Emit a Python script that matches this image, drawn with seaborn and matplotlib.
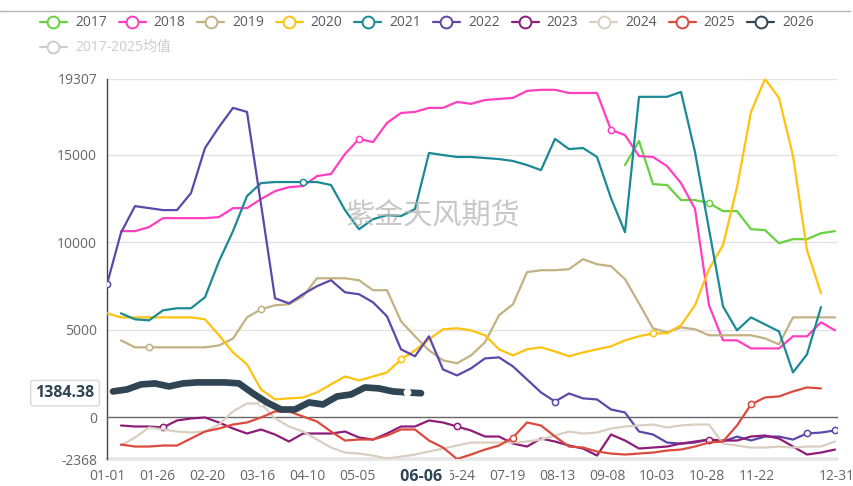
import numpy as np
import pandas as pd
import matplotlib
matplotlib.use("Agg")
import matplotlib.pyplot as plt
import matplotlib.transforms as mtransforms
from matplotlib.lines import Line2D
import seaborn as sns

# ---------------------------------------------------------------- data
# weekly observations placed on a day-of-year axis (0 = 01-01, 365 = 12-31)
WEEK = 7

tick_days = [0, 25, 50, 75, 100, 125, 150, 175, 200, 225, 250, 275, 300, 325, 365]
tick_labels = ["01-01", "01-26", "02-20", "03-16", "04-10", "05-05", "",
               "06-24", "07-19", "08-13", "09-08", "10-03", "10-28", "11-22", "12-31"]

y_ticks = [-2368, 0, 5000, 10000, 15000, 19307]

years = ["2017", "2018", "2019", "2020", "2021", "2022", "2023", "2024", "2025", "2026"]

y2017 = [14400, 15770, 13310, 13260, 12400, 12400, 12230, 11770, 11770, 10740,
         10690, 9940, 10170, 10170, 10510, 10630]
y2018 = [10630, 10630, 10860, 11370, 11370, 11370, 11370, 11430, 11940, 11940,
         12460, 12910, 13140, 13200, 13770, 13890, 15030, 15890, 15710, 16800,
         17370, 17430, 17660, 17660, 18000, 17890, 18110, 18170, 18230, 18630,
         18690, 18690, 18510, 18510, 18510, 16400, 16110, 14910, 14860, 14340,
         13370, 11900, 6400, 4400, 4400, 3940, 3940, 3940, 4630, 4630,
         5430, 4970]
y2019 = [4400, 4000, 4000, 4000, 4000, 4000, 4000, 4110, 4500, 5710,
         6170, 6400, 6460, 6910, 7940, 7940, 7940, 7830, 7260, 7260,
         5490, 4630, 3830, 3260, 3090, 3540, 4290, 5830, 6460, 8290,
         8400, 8400, 8460, 9030, 8740, 8630, 7890, 6510, 5090, 4860,
         5140, 5030, 4690, 4690, 4690, 4690, 4510, 4170, 5710, 5710,
         5710, 5710]
y2020 = [5940, 5710, 5710, 5710, 5710, 5710, 5710, 5600, 4690, 3710,
         3030, 1600, 1030, 1090, 1140, 1430, 1890, 2340, 2110, 2340,
         2570, 3310, 3830, 4460, 5030, 5090, 4970, 4690, 3890, 3540,
         3890, 4000, 3770, 3490, 3710, 3890, 4060, 4400, 4630, 4800,
         4800, 5260, 6400, 8460, 9830, 13140, 17430, 19307, 18230, 14910,
         9540, 7090]
y2021 = [5940, 5600, 5540, 6110, 6230, 6230, 6860, 8910, 10630, 12630,
         13370, 13430, 13430, 13430, 13430, 13260, 11830, 10740, 11310, 11540,
         11490, 11890, 15090, 14970, 14860, 14860, 14800, 14740, 14630, 14400,
         14110, 15890, 15310, 15370, 14860, 12510, 10570, 18290, 18290, 18290,
         18570, 15140, 10740, 6340, 4970, 5710, 5310, 4910, 2570, 3600,
         6300]
y2022 = [7600, 10540, 12057, 11943, 11830, 11830, 12800, 15370, 16570, 17660,
         17430, 12170, 6800, 6510, 7030, 7490, 7830, 7140, 7030, 6570,
         5770, 3890, 3490, 4630, 2740, 2400, 2800, 3370, 3430, 2910,
         2170, 1430, 910, 1370, 1090, 1030, 457, 286, -800, -970,
         -1430, -1490, -1430, -1260, -1370, -1090, -1310, -1090, -1090, -1260,
         -910, -860, -740]
y2023 = [-457, -514, -514, -571, -171, -57, 0, -286, -629, -914,
         -686, -971, -1371, -914, -914, -914, -800, -1143, -1257, -914,
         -514, -514, -171, -286, -514, -743, -1086, -1086, -1486, -1657,
         -1200, -1371, -1600, -1771, -2171, -971, -1314, -1771, -1714, -1657,
         -1486, -1371, -1257, -1314, -1314, -1086, -1029, -1200, -1657, -2114,
         -2000, -1829]
y2024 = [-1600, -1143, -571, -686, -800, -857, -800, -400, 343, 800,
         800, -50, -514, -800, -1257, -1714, -2000, -2057, -2171, -2343,
         -2229, -2114, -1943, -1771, -1600, -1429, -1429, -1429, -1429, -1371,
         -1257, -1029, -800, -914, -857, -629, -514, -457, -400, -571,
         -457, -400, -400, -1486, -1600, -1714, -1714, -1657, -1714, -1657,
         -1657, -1371]
y2025 = [-1543, -1657, -1657, -1600, -1600, -1200, -800, -629, -400, -286,
         0, 343, 343, 57, -229, -800, -1314, -1257, -1257, -1029,
         -686, -686, -1314, -1714, -2368, -2114, -1829, -1600, -1143, -286,
         -457, -1086, -1657, -1714, -1943, -2057, -2114, -2057, -2000, -1886,
         -1829, -1657, -1429, -1371, -457, 743, 1143, 1200, 1486, 1714,
         1657]
y2026 = [1486, 1600, 1886, 1943, 1771, 1943, 2000, 2000, 2000, 1943,
         1371, 857, 457, 457, 857, 743, 1200, 1314, 1714, 1657,
         1486, 1429, 1384.38]

# first observation day of each year on the calendar axis
first_day = {"2017": 37 * WEEK, "2018": 1 * WEEK, "2019": 1 * WEEK, "2020": 0,
             "2021": 1 * WEEK, "2022": 0, "2023": 1 * WEEK, "2024": 1 * WEEK,
             "2025": 1 * WEEK, "2026": 3}
values = {"2017": y2017, "2018": y2018, "2019": y2019, "2020": y2020,
          "2021": y2021, "2022": y2022, "2023": y2023, "2024": y2024,
          "2025": y2025, "2026": y2026}

latest_label = "06-06"
latest_value = y2026[-1]
avg_label = "2017-2025均值"
watermark = "紫金天风期货"

# ---------------------------------------------------------------- style
colors = {"2017": "#68d13f", "2018": "#ff3fc0", "2019": "#c2b283",
          "2020": "#ffc20e", "2021": "#1a8a96", "2022": "#5b48a8",
          "2023": "#8e1d79", "2024": "#d9cfc1", "2025": "#dc4a3d",
          "2026": "#2f4554"}
# points that carry a hollow symbol (index within each series)
symbol_points = {"2017": [6], "2018": [17, 35], "2019": [2, 10], "2020": [21, 39],
                 "2021": [13], "2022": [0, 32, 50, 52], "2023": [3, 24, 42],
                 "2024": [10], "2025": [28, 45], "2026": [21]}

sns.set_style("white")
plt.rcParams["font.family"] = ["Open Sans", "Noto Sans CJK SC", "DejaVu Sans"]

W, H = 854, 486
fig = plt.figure(figsize=(W / 100, H / 100), dpi=100)
fig.patch.set_facecolor("white")
ax = fig.add_axes([107 / W, 1 - 459 / H, 730 / W, 380 / H])

frames = []
for yr in years:
    v = values[yr]
    d = first_day[yr] + WEEK * np.arange(len(v))
    frames.append(pd.DataFrame({"day": d, "value": v, "year": yr}))
data = pd.concat(frames, ignore_index=True)

for i, yr in enumerate(years):
    sub = data[data["year"] == yr]
    lw = 4.8 if yr == "2026" else 1.6
    sns.lineplot(data=sub, x="day", y="value", ax=ax, color=colors[yr],
                 linewidth=lw, estimator=None, sort=False, legend=False,
                 marker="o", markevery=symbol_points[yr], markersize=4.5,
                 markerfacecolor="white",
                 markeredgecolor=colors[yr] if yr != "2026" else "white",
                 markeredgewidth=1.1, solid_joinstyle="round", solid_capstyle="round",
                 zorder=3 + i)

ax.set_xlim(0, 365)
ax.set_ylim(y_ticks[0], y_ticks[-1])
ax.set_xticks(tick_days)
ax.set_xticklabels(tick_labels)
ax.set_yticks(y_ticks)
ax.set_yticklabels([str(t) for t in y_ticks])
ax.set_xlabel("")
ax.set_ylabel("")

# horizontal guides
for g in y_ticks[2:]:
    ax.axhline(g, color="#e2e2e2", lw=1.0, zorder=1)
ax.axhline(y_ticks[0], color="#e6e6e6", lw=2.6, zorder=1, clip_on=False)

for s in ("top", "right"):
    ax.spines[s].set_visible(False)
ax.spines["left"].set_color("#444444")
ax.spines["left"].set_linewidth(1.0)
ax.spines["bottom"].set_position(("data", 0))
ax.spines["bottom"].set_color("#666666")
ax.spines["bottom"].set_linewidth(1.0)

ax.tick_params(axis="x", direction="out", length=4, width=1, color="#666666",
               pad=33, labelsize=10, labelcolor="#666666")
ax.tick_params(axis="y", direction="out", length=4, width=1, color="#444444",
               pad=3, labelsize=10, labelcolor="#666666")

# pointer labels for the latest observation
tx = mtransforms.blended_transform_factory(ax.transData, ax.transAxes)
ax.text(157, -0.047, f" {latest_label} ", transform=tx, ha="center", va="center",
        fontsize=11.5, fontweight="bold", color="#2f4554", zorder=20, clip_on=False,
        bbox=dict(facecolor="white", edgecolor="none", pad=3))
ty = mtransforms.blended_transform_factory(ax.transAxes, ax.transData)
ax.text(-0.017, latest_value, f"{latest_value:.2f}", transform=ty, ha="right",
        va="center", fontsize=11.5, fontweight="bold", color="#2f4554", zorder=20,
        clip_on=False,
        bbox=dict(boxstyle="round,pad=0.3,rounding_size=0.15", facecolor="white",
                  edgecolor="#d8d8d8", lw=1))

# watermark
ax.text(0.447, 0.64, watermark, transform=ax.transAxes, ha="center", va="center",
        fontsize=21, color="#b5b5b5", alpha=0.75, zorder=30,
        family=["Noto Sans CJK SC", "DejaVu Sans"])

# ---------------------------------------------------------------- legend
def fx(px):
    return px / W


def fy(py):
    return 1 - py / H


fig.add_artist(Line2D([fx(0), fx(850)], [fy(11), fy(11)], color="#b4b4b4", lw=1))

for i, yr in enumerate(years):
    x0 = 40 + 78.6 * i
    fig.add_artist(Line2D([fx(x0), fx(x0 + 27)], [fy(22.5), fy(22.5)], color=colors[yr], lw=1.6))
    fig.add_artist(Line2D([fx(x0 + 13.5)], [fy(22.5)], color=colors[yr], marker="o",
                          markersize=8.5, markerfacecolor="white", markeredgewidth=1.4))
    fig.text(fx(x0 + 35), fy(22.5), yr, ha="left", va="center", fontsize=10,
             color="#5a5a5a")

x0 = 40
fig.add_artist(Line2D([fx(x0), fx(x0 + 27)], [fy(47), fy(47)], color="#cccccc", lw=1.6))
fig.add_artist(Line2D([fx(x0 + 13.5)], [fy(47)], color="#cccccc", marker="o",
                      markersize=8.5, markerfacecolor="white", markeredgewidth=1.4))
fig.text(fx(x0 + 35), fy(47), avg_label, ha="left", va="center", fontsize=10,
         color="#cccccc", family=["Open Sans", "Noto Sans CJK SC", "DejaVu Sans"])

fig.savefig("out.png", dpi=100, facecolor="white")
